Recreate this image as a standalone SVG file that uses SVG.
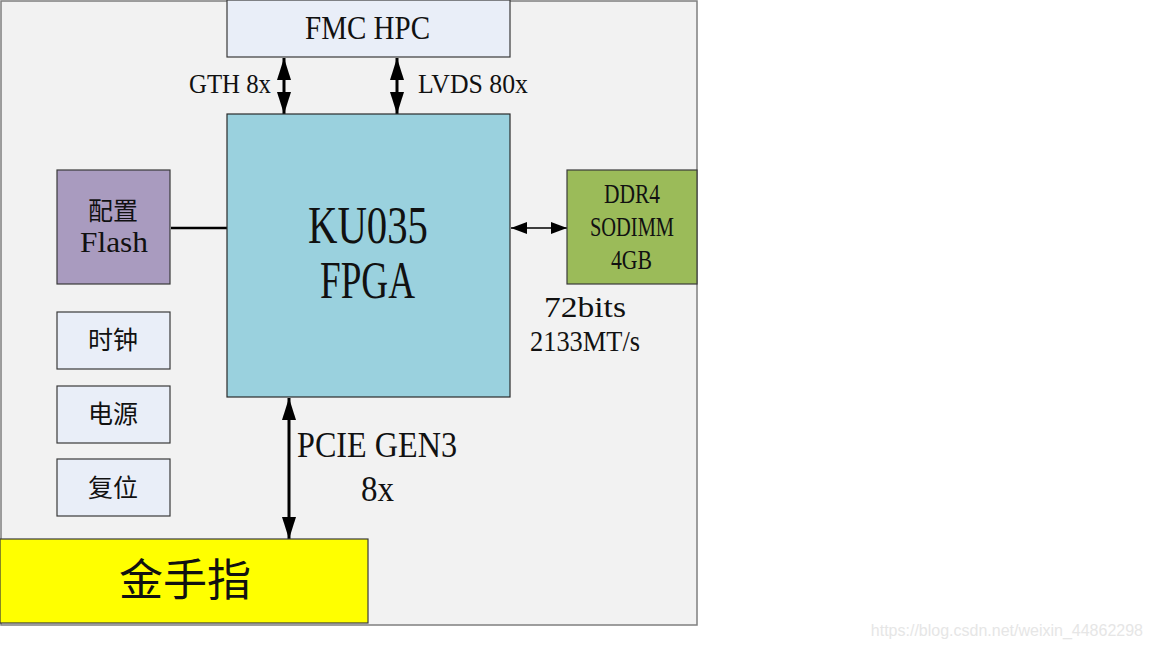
<svg xmlns="http://www.w3.org/2000/svg" width="1152" height="648" viewBox="0 0 1152 648">
<style>
.t{font-family:"Liberation Serif","Noto Sans CJK SC",serif;fill:#111}
.c{text-anchor:middle}
.lb{fill:#e9eef8;stroke:#3a3a3a;stroke-width:1.2}
</style>
<defs>
<marker id="bh" viewBox="0 0 22 14" refX="22" refY="7" markerWidth="22" markerHeight="14" markerUnits="userSpaceOnUse" orient="auto-start-reverse">
<path d="M0,0 L22,7 L0,14 z" fill="#000"/>
</marker>
<marker id="sh" viewBox="0 0 16 12" refX="16" refY="6" markerWidth="16" markerHeight="12" markerUnits="userSpaceOnUse" orient="auto-start-reverse">
<path d="M0,0 L16,6 L0,12 z" fill="#000"/>
</marker>
</defs>
<rect width="1152" height="648" fill="#fff"/>
<rect id="board" x="1" y="1" width="696" height="624" fill="#f2f2f2" stroke="#7f7f7f" stroke-width="1.5"/>
<g id="connectors" stroke="#000" fill="none">
<line x1="284" y1="58" x2="284" y2="114" stroke-width="3" marker-start="url(#bh)" marker-end="url(#bh)"/>
<line x1="397" y1="58" x2="397" y2="114" stroke-width="3" marker-start="url(#bh)" marker-end="url(#bh)"/>
<line x1="171" y1="228" x2="227" y2="228" stroke-width="2.5"/>
<line x1="511" y1="228" x2="567" y2="228" stroke-width="1.5" marker-start="url(#sh)" marker-end="url(#sh)"/>
<line x1="289" y1="398" x2="289" y2="539" stroke-width="3" marker-start="url(#bh)" marker-end="url(#bh)"/>
</g>
<g id="fmc"><rect class="lb" x="227" y="0" width="283" height="57"/><text class="t" x="305" y="39" font-size="34" textLength="125" lengthAdjust="spacingAndGlyphs">FMC HPC</text></g>
<g id="fpga"><rect x="227" y="114" width="283" height="283" fill="#9ad1de" stroke="#2a2a2a" stroke-width="1.2"/>
<text class="t" x="308" y="243" font-size="52" textLength="120" lengthAdjust="spacingAndGlyphs">KU035</text><text class="t" x="320" y="298" font-size="52" textLength="95" lengthAdjust="spacingAndGlyphs">FPGA</text></g>
<g id="flash"><rect x="57" y="170" width="113" height="114" fill="#a99bbf" stroke="#3a3a3a" stroke-width="1.2"/>
<text class="t c" x="113" y="220" font-size="25">配置</text><text class="t" x="80" y="252" font-size="30" textLength="68" lengthAdjust="spacingAndGlyphs">Flash</text></g>
<g id="ddr4"><rect x="567" y="170" width="130" height="114" fill="#9bbb59" stroke="#3a3a3a" stroke-width="1.2"/>
<text class="t" x="604" y="203" font-size="27" textLength="56" lengthAdjust="spacingAndGlyphs">DDR4</text><text class="t" x="590" y="236" font-size="27" textLength="84" lengthAdjust="spacingAndGlyphs">SODIMM</text><text class="t" x="611" y="269" font-size="27" textLength="41" lengthAdjust="spacingAndGlyphs">4GB</text></g>
<g id="clock"><rect class="lb" x="57" y="312" width="113" height="57"/><text class="t c" x="113" y="349" font-size="25">时钟</text></g>
<g id="power"><rect class="lb" x="57" y="386" width="113" height="57"/><text class="t c" x="113" y="423" font-size="25">电源</text></g>
<g id="reset"><rect class="lb" x="57" y="459" width="113" height="57"/><text class="t c" x="113" y="497" font-size="25">复位</text></g>
<g id="goldfinger"><rect x="0" y="539" width="368" height="84" fill="#ffff00" stroke="#3a3a3a" stroke-width="1.2"/>
<text class="t c" x="185" y="596" font-size="44">金手指</text></g>
<g id="labels">
<text class="t" x="189" y="93" font-size="27" textLength="82" lengthAdjust="spacingAndGlyphs">GTH 8x</text>
<text class="t" x="418" y="93" font-size="27" textLength="110" lengthAdjust="spacingAndGlyphs">LVDS 80x</text>
<text class="t" x="544" y="317" font-size="29" textLength="82" lengthAdjust="spacingAndGlyphs">72bits</text>
<text class="t" x="530" y="351" font-size="29" textLength="110" lengthAdjust="spacingAndGlyphs">2133MT/s</text>
<text class="t" x="297" y="457" font-size="36" textLength="160" lengthAdjust="spacingAndGlyphs">PCIE GEN3</text>
<text class="t" x="361" y="501" font-size="36" textLength="33" lengthAdjust="spacingAndGlyphs">8x</text>
</g>
<text x="1143" y="636" font-family="Liberation Sans,sans-serif" font-size="16" fill="#e6e6e6" text-anchor="end">https://blog.csdn.net/weixin_44862298</text>
</svg>
